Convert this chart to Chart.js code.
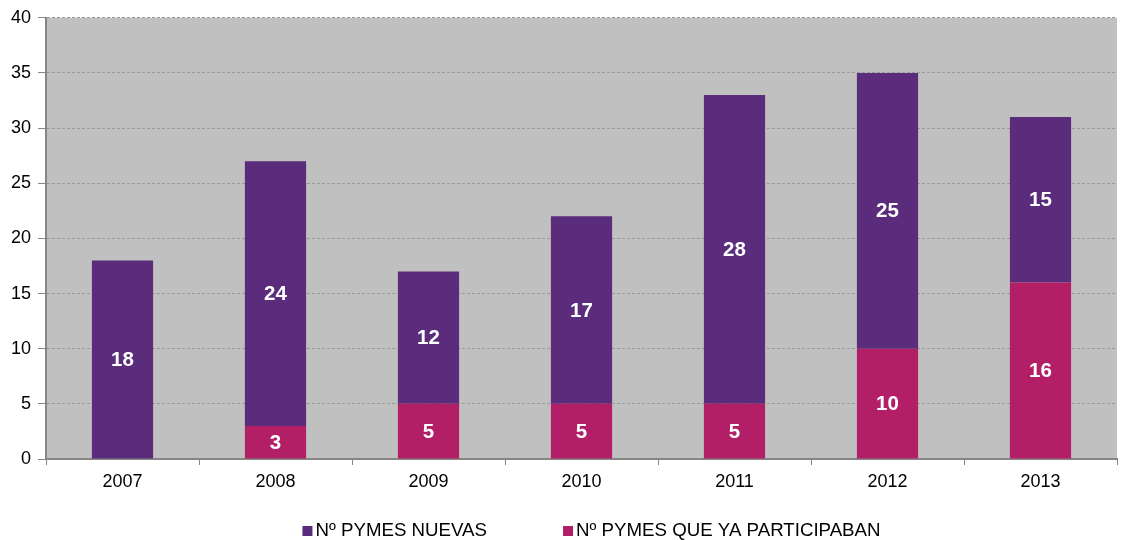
<!DOCTYPE html>
<html><head><meta charset="utf-8">
<script src="https://cdn.jsdelivr.net/npm/chart.js@4/dist/chart.umd.min.js"></script>
<style>html,body{margin:0;padding:0;background:#fff}#wrap{width:1125px;height:540px}</style>
</head><body><div id="wrap"><canvas id="c" width="1125" height="540"></canvas></div>
<script>
const categories = ['2007','2008','2009','2010','2011','2012','2013'];
const pymesNuevas = [18,24,12,17,28,25,15];
const pymesParticipaban = [0,3,5,5,5,10,16];
const yTicks = [0,5,10,15,20,25,30,35,40];
const seriesNames = ['Nº PYMES NUEVAS','Nº PYMES QUE YA PARTICIPABAN'];
const seriesColors = ['#5A2C7B','#B31F66'];

const FONT = "'Liberation Sans', Arial, sans-serif";

const bgPlugin = {
  id:'bg',
  beforeDraw(chart){
    const {ctx, chartArea:a} = chart;
    ctx.save(); ctx.fillStyle='#C0C0C0';
    ctx.fillRect(a.left,a.top,a.right-a.left,a.bottom-a.top);
    ctx.restore();
  }
};
const labelPlugin = {
  id:'lbl',
  afterDatasetsDraw(chart){
    const ctx = chart.ctx;
    ctx.save();
    ctx.fillStyle='#fff'; ctx.font='bold 20.5px '+FONT;
    ctx.textAlign='center'; ctx.textBaseline='middle';
    chart.data.datasets.forEach((ds,i)=>{
      chart.getDatasetMeta(i).data.forEach((el,j)=>{
        const v = ds.data[j];
        if(!v) return;
        ctx.fillText(String(v), el.x, (el.y+el.base)/2+1);
      });
    });
    ctx.restore();
  }
};
const legendPlugin = {
  id:'customLegend',
  afterDraw(chart){
    const ctx = chart.ctx, a = chart.chartArea;
    ctx.save();
    ctx.font = '18.7px '+FONT;
    ctx.textBaseline='middle'; ctx.textAlign='left';
    const box=10, gap=3, spacing=76;
    const widths = seriesNames.map(t=>ctx.measureText(t).width);
    const total = widths.reduce((s,w)=>s+box+gap+w,0)+spacing*(seriesNames.length-1);
    let x = (a.left+a.right)/2 + 10 - total/2;
    const y = 531;
    seriesNames.forEach((t,i)=>{
      ctx.fillStyle = seriesColors[i];
      ctx.fillRect(x, y-5, box, box);
      ctx.fillStyle = '#000';
      ctx.fillText(t, x+box+gap, y);
      x += box+gap+widths[i]+spacing;
    });
    ctx.restore();
  }
};

new Chart(document.getElementById('c'),{
  type:'bar',
  data:{labels:categories,datasets:[
    {label:seriesNames[1],data:pymesParticipaban,backgroundColor:seriesColors[1],stack:'s'},
    {label:seriesNames[0],data:pymesNuevas,backgroundColor:seriesColors[0],stack:'s'}
  ]},
  options:{
    responsive:false,animation:false,devicePixelRatio:1,
    layout:{padding:{top:15,right:8,left:0,bottom:41}},
    datasets:{bar:{barPercentage:0.4,categoryPercentage:1}},
    plugins:{legend:{display:false},tooltip:{enabled:false}},
    scales:{
      x:{stacked:true,
        grid:{display:true,drawOnChartArea:false,offset:true,color:'#868686',tickLength:6},
        border:{color:'#868686',width:2},
        ticks:{font:{family:FONT,size:18},color:'#000',padding:6},
        afterFit(s){s.height=40;}
      },
      y:{stacked:true,min:0,max:40,
        afterBuildTicks(s){s.ticks=yTicks.map(v=>({value:v}));},
        grid:{color:'#999999',tickColor:'#868686',tickLength:8,tickBorderDash:[]},
        border:{color:'#868686',width:2,dash:[3,2]},
        ticks:{font:{family:FONT,size:18},color:'#000',padding:7},
        afterFit(s){s.width=46;}
      }
    }
  },
  plugins:[bgPlugin,labelPlugin,legendPlugin]
});
</script></body></html>
